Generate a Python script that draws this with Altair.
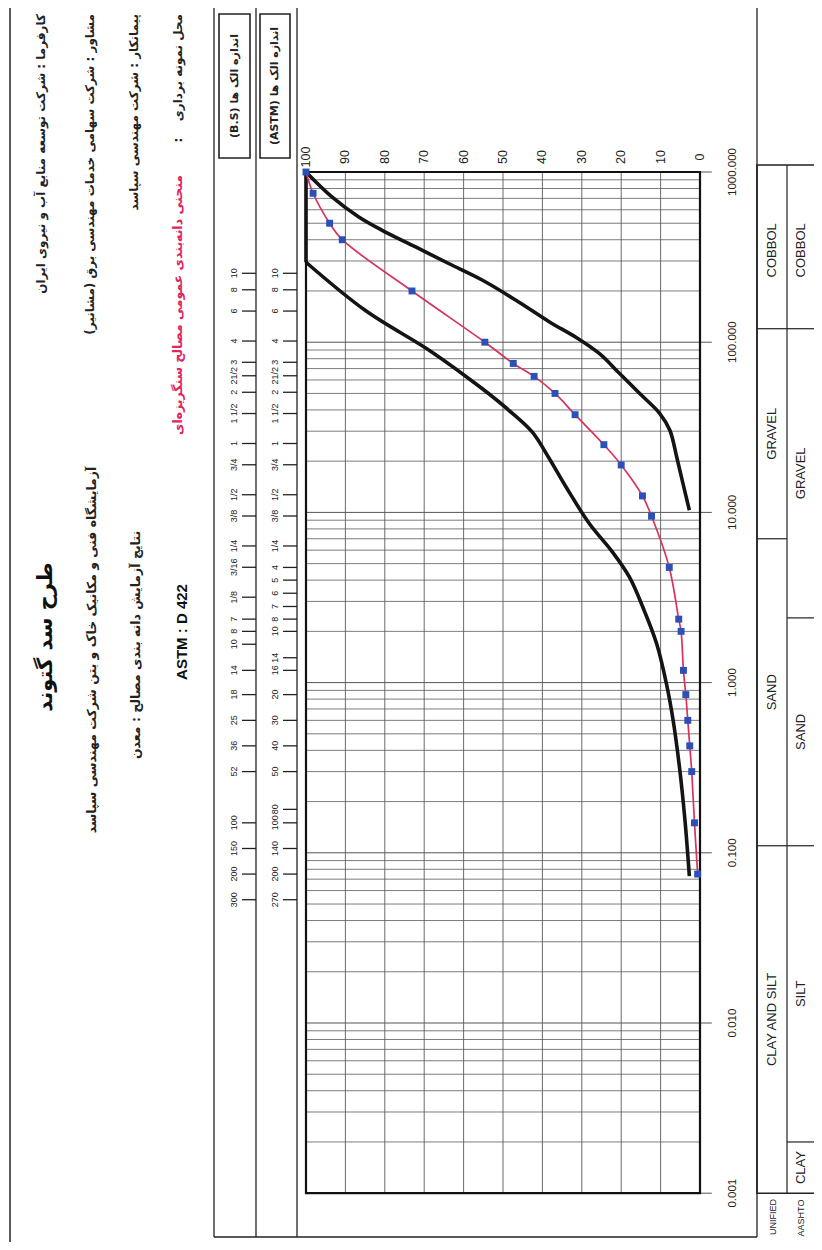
import math
import altair as alt
import pandas as pd

# ---------------- data ----------------
sample_size = [1000, 750, 500, 400, 200, 100, 75, 63, 50, 37.5, 25, 19, 12.5, 9.5,
               4.75, 2.36, 2.0, 1.18, 0.85, 0.6, 0.425, 0.3, 0.15, 0.075]
sample_pass = [100, 98.2, 94.0, 90.8, 73.1, 54.6, 47.4, 42.1, 36.8, 31.7, 24.4, 20.0,
               14.6, 12.3, 7.8, 5.4, 4.8, 4.2, 3.6, 3.1, 2.6, 2.1, 1.4, 0.6]

fine_edge_size = [1000, 295]
fine_edge_pass = [100, 100]
fine_size = [295, 154, 87.7, 53.6, 39.8, 29.7, 20.8, 14.1, 8.6, 5.84, 4.16,
             2.77, 1.69, 0.98, 0.597, 0.303, 0.154, 0.073]
fine_pass = [100, 85.0, 68.1, 55.4, 48.5, 42.6, 38.3, 34.0, 28.1, 22.2, 17.9,
             14.5, 11.0, 8.5, 6.8, 5.1, 3.8, 2.7]

coarse_size = [1000, 716, 546, 456, 364, 290, 232, 177, 132, 107, 85.6, 65.4, 49.9,
               38.1, 30.4, 21.1, 14.7, 10.3]
coarse_pass = [100, 93.5, 86.7, 80.8, 72.3, 63.8, 55.3, 46.8, 38.3, 31.5, 25.5, 20.4,
               15.3, 10.2, 7.65, 5.9, 4.3, 2.7]

pct_ticks = [100, 90, 80, 70, 60, 50, 40, 30, 20, 10, 0]
decade_sizes = [1000, 100, 10, 1, 0.1, 0.01, 0.001]
decade_labels = ["1000.000", "100.000", "10.000", "1.000", "0.100", "0.010", "0.001"]
minor_mult = [2, 3, 4, 5, 6, 7, 8, 9]

bs_labels = ["10", "8", "6", "4", "3", "21/2", "2", "1 1/2", "1", "3/4", "1/2", "3/8",
             "1/4", "3/16", "1/8", "7", "8", "10", "14", "18", "25", "36", "52", "100",
             "150", "200", "300"]
bs_sizes = [254, 203.2, 152.4, 101.6, 76.2, 63.5, 50.8, 38.1, 25.4, 19.05, 12.7, 9.525,
            6.35, 4.76, 3.175, 2.36, 2.0, 1.68, 1.18, 0.85, 0.6, 0.425, 0.3, 0.15,
            0.106, 0.075, 0.053]
astm_labels = ["10", "8", "6", "4", "3", "21/2", "2", "1 1/2", "1", "3/4", "1/2", "3/8",
               "1/4", "4", "5", "6", "7", "8", "10", "14", "16", "20", "30", "40", "50",
               "80", "100", "140", "200", "270"]
astm_sizes = [254, 203.2, 152.4, 101.6, 76.2, 63.5, 50.8, 38.1, 25.4, 19.05, 12.7, 9.525,
              6.35, 4.75, 4.0, 3.35, 2.8, 2.36, 2.0, 1.4, 1.18, 0.85, 0.6, 0.425, 0.3,
              0.18, 0.15, 0.106, 0.075, 0.053]

unified_names = ["COBBOL", "GRAVEL", "SAND", "CLAY AND SILT"]
unified_bounds = [1000, 120, 7, 0.11, 0.001]
aashto_names = ["COBBOL", "GRAVEL", "SAND", "SILT", "CLAY"]
aashto_bounds = [1000, 120, 2.4, 0.11, 0.002, 0.001]

RLM = "\u200f"
t_client = "کارفرما : شرکت توسعه منابع آب و نیروی ایران"
t_consult = "مشاور : شرکت سهامی خدمات مهندسی برق (مشانیر)"
t_contractor = "پیمانکار : شرکت مهندسی سپاسد"
t_place = "محل نمونه برداری"
t_red = "منحنی دانه‌بندی عمومی مصالح سنگریزه‌ای"
t_title = "طرح سد گتوند"
t_lab = "آزمایشگاه فنی و مکانیک خاک و بتن شرکت مهندسی سپاسد"
t_result = "نتایج آزمایش دانه بندی مصالح : معدن"
t_std = "ASTM : D 422"
t_bs = "(B.S) اندازه الک ها"
t_astm = "(ASTM) اندازه الک ها"

# ---------------- geometry ----------------
W, H, ORG = 806, 1234, 8
X100, X0 = 306.0, 700.0
Y_TOP, DEC = 172.0, 170.2
PPP = (X0 - X100) / 100.0
pct_left = (X0 - ORG) / PPP
pct_right = (X0 - ORG - W) / PPP
size_top = 10 ** (3 + (Y_TOP - ORG) / DEC)
size_bot = 10 ** (3 - (ORG + H - Y_TOP) / DEC)


def page_y(size):
    return Y_TOP + (3 - math.log10(size)) * DEC


XS = alt.Scale(domain=[pct_right, pct_left], reverse=True, nice=False, zero=False)
YS = alt.Scale(type="log", domain=[size_bot, size_top], nice=False)
PX = alt.Scale(domain=[ORG, ORG + W], nice=False, zero=False)
PY = alt.Scale(domain=[ORG, ORG + H], reverse=True, nice=False, zero=False)


def ex(f):
    return alt.X(f"{f}:Q", scale=XS, axis=None)


def ey(f):
    return alt.Y(f"{f}:Q", scale=YS, axis=None)


def px(f):
    return alt.X(f"{f}:Q", scale=PX, axis=None)


def py(f):
    return alt.Y(f"{f}:Q", scale=PY, axis=None)


FA = "'Liberation Sans Narrow', 'Liberation Sans', Arial, sans-serif"
FP = "'DejaVu Sans', 'Noto Sans', sans-serif"
layers = []

# grid
minor = [m * 10 ** d for d in range(-3, 3) for m in minor_mult]
g_minor = pd.DataFrame({"s": minor, "a": 100, "b": 0})
layers.append(alt.Chart(g_minor).mark_rule(color="#666666", strokeWidth=0.85).encode(
    x=ex("a"), x2="b", y=ey("s")))
g_dec = pd.DataFrame({"s": decade_sizes, "a": 100, "b": -3})
layers.append(alt.Chart(g_dec).mark_rule(color="#555555", strokeWidth=1).encode(
    x=ex("a"), x2="b", y=ey("s")))
g_v = pd.DataFrame({"p": pct_ticks, "s1": 1000, "s2": 0.001})
layers.append(alt.Chart(g_v).mark_rule(color="#5a5a5a", strokeWidth=0.9).encode(
    x=ex("p"), y=ey("s1"), y2="s2"))
border = pd.DataFrame({"a": [100], "b": [0], "s1": [1000], "s2": [0.001]})
layers.append(alt.Chart(border).mark_rect(fillOpacity=0, stroke="#111111", strokeWidth=2.2).encode(
    x=ex("a"), x2="b", y=ey("s1"), y2="s2"))

# envelopes
env = pd.DataFrame({
    "s": fine_size + coarse_size,
    "p": fine_pass + coarse_pass,
    "curve": ["fine"] * len(fine_size) + ["coarse"] * len(coarse_size),
    "i": list(range(len(fine_size))) + list(range(len(coarse_size))),
})
layers.append(alt.Chart(env).mark_line(color="#141414", strokeWidth=3.6, interpolate="catmull-rom").encode(
    x=ex("p"), y=ey("s"), detail="curve:N", order="i:Q"))
edge = pd.DataFrame({"s": fine_edge_size, "p": fine_edge_pass})
layers.append(alt.Chart(edge).mark_line(color="#141414", strokeWidth=3.6).encode(
    x=ex("p"), y=ey("s")))

# sample curve
samp = pd.DataFrame({"s": sample_size, "p": sample_pass, "i": list(range(len(sample_size)))})
layers.append(alt.Chart(samp).mark_line(color="#d8325e", strokeWidth=1.7, interpolate="catmull-rom").encode(
    x=ex("p"), y=ey("s"), order="i:Q"))
layers.append(alt.Chart(samp).mark_square(size=48, color="#2d4fb8", opacity=1).encode(
    x=ex("p"), y=ey("s")))

# axis labels
pl = pd.DataFrame({"p": pct_ticks, "y": 157, "label": [str(v) for v in pct_ticks]})
layers.append(alt.Chart(pl).mark_text(angle=270, align="center", baseline="middle", font=FA,
                                      fontSize=12.5, color="#222").encode(
    x=ex("p"), y=py("y"), text="label:N"))
sl = pd.DataFrame({"s": decade_sizes, "x": 733, "label": decade_labels})
layers.append(alt.Chart(sl).mark_text(angle=270, align="center", baseline="middle", font=FA,
                                      fontSize=11.5, color="#222").encode(
    x=px("x"), y=ey("s"), text="label:N"))

# sieve columns
sv = pd.DataFrame({
    "s": bs_sizes + astm_sizes,
    "label": bs_labels + astm_labels,
    "tx": [234] * len(bs_sizes) + [275] * len(astm_sizes),
    "a": [242] * len(bs_sizes) + [283] * len(astm_sizes),
    "b": [256] * len(bs_sizes) + [297] * len(astm_sizes),
})
layers.append(alt.Chart(sv).mark_rule(color="#222", strokeWidth=1.3).encode(
    x=px("a"), x2="b", y=ey("s")))
layers.append(alt.Chart(sv).mark_text(angle=270, align="center", baseline="middle", font=FA,
                                      fontSize=9, color="#222").encode(
    x=px("tx"), y=ey("s"), text="label:N"))

# frame lines (page coordinates)
frame = pd.DataFrame([
    (10, 8, 10, 1242, 1.5),
    (214, 8, 214, 1237, 1.3),
    (256, 8, 256, 1237, 1.3),
    (297, 8, 297, 1237, 1.3),
    (214, 1237, 757, 1237, 1.6),
    (757, 8, 757, 1237, 1.3),
    (787, 165, 787, page_y(0.001), 1.2),
], columns=["x", "y", "x2", "y2", "w"])
layers.append(alt.Chart(frame).mark_rule(color="#222").encode(
    x=px("x"), x2="x2", y=py("y"), y2="y2", strokeWidth=alt.StrokeWidth("w:Q", scale=None)))

boxes = pd.DataFrame([
    (219, 14, 250, 158),
    (260, 14, 290, 158),
    (757, 165, 815, page_y(0.001)),
], columns=["x", "y", "x2", "y2"])
layers.append(alt.Chart(boxes).mark_rect(fillOpacity=0, stroke="#222", strokeWidth=1.6).encode(
    x=px("x"), x2="x2", y=py("y"), y2="y2"))

# classification strip
div_rows, lab_rows = [], []
for names, bounds, xa, xb in [(unified_names, unified_bounds, 757, 787),
                              (aashto_names, aashto_bounds, 787, 815)]:
    for b in bounds[1:-1]:
        div_rows.append((xa, xb, b))
    for k, n in enumerate(names):
        c = 10 ** ((math.log10(bounds[k]) + math.log10(bounds[k + 1])) / 2)
        lab_rows.append(((xa + xb) / 2, c, n))
divs = pd.DataFrame(div_rows, columns=["a", "b", "s"])
layers.append(alt.Chart(divs).mark_rule(color="#222", strokeWidth=1.2).encode(
    x=px("a"), x2="b", y=ey("s")))
labs = pd.DataFrame(lab_rows, columns=["x", "s", "label"])
layers.append(alt.Chart(labs).mark_text(angle=270, align="center", baseline="middle", font=FA,
                                        fontSize=13, color="#222").encode(
    x=px("x"), y=ey("s"), text="label:N"))
sys_lab = pd.DataFrame({"x": [773, 801], "y": [1217, 1218], "label": ["UNIFIED", "AASHTO"]})
layers.append(alt.Chart(sys_lab).mark_text(angle=270, align="center", baseline="middle", font=FA,
                                           fontSize=9, color="#222").encode(
    x=px("x"), y=py("y"), text="label:N"))

# header (page coordinates)
top_lines = pd.DataFrame({
    "x": [41, 90, 134, 178],
    "y": [14, 14, 14, 14],
    "label": [RLM + t + RLM for t in [t_client, t_consult, t_contractor, t_place]],
})
layers.append(alt.Chart(top_lines).mark_text(angle=270, align="right", baseline="middle", font=FP,
                                             fontSize=12, fontWeight="bold", color="#222").encode(
    x=px("x"), y=py("y"), text="label:N"))
colon = pd.DataFrame({"x": [178], "y": [140], "label": [":"]})
layers.append(alt.Chart(colon).mark_text(angle=270, align="center", baseline="middle", font=FP,
                                         fontSize=12, fontWeight="bold", color="#222").encode(
    x=px("x"), y=py("y"), text="label:N"))
red = pd.DataFrame({"x": [178], "y": [175], "label": [RLM + t_red + RLM]})
layers.append(alt.Chart(red).mark_text(angle=270, align="right", baseline="middle", font=FP,
                                       fontSize=12.5, fontWeight="bold", color="#e0245e").encode(
    x=px("x"), y=py("y"), text="label:N"))
title = pd.DataFrame({"x": [46], "y": [637], "label": [RLM + t_title + RLM]})
layers.append(alt.Chart(title).mark_text(angle=270, align="center", baseline="middle", font=FP,
                                         fontSize=21, fontWeight="bold", color="#111").encode(
    x=px("x"), y=py("y"), text="label:N"))
mid = pd.DataFrame({"x": [92, 136], "y": [650, 645],
                    "label": [RLM + t_lab + RLM, RLM + t_result + RLM]})
layers.append(alt.Chart(mid).mark_text(angle=270, align="center", baseline="middle", font=FP,
                                       fontSize=12.5, fontWeight="bold", color="#222").encode(
    x=px("x"), y=py("y"), text="label:N"))
std = pd.DataFrame({"x": [182], "y": [632], "label": [t_std]})
layers.append(alt.Chart(std).mark_text(angle=270, align="center", baseline="middle", font=FA,
                                       fontSize=15, fontWeight="bold", color="#111").encode(
    x=px("x"), y=py("y"), text="label:N"))
bx = pd.DataFrame({"x": [234.5, 275], "y": [86, 86], "label": [t_bs, t_astm]})
layers.append(alt.Chart(bx).mark_text(angle=270, align="center", baseline="middle", font=FP,
                                      fontSize=11, fontWeight="bold", color="#222").encode(
    x=px("x"), y=py("y"), text="label:N"))

chart = alt.layer(*layers).resolve_scale(x="independent", y="independent").properties(
    width=W, height=H, padding=0, autosize=alt.AutoSizeParams(type="none"),
    background="white",
).configure_view(strokeWidth=0)

chart.save("out.html", embed_options={"renderer": "svg", "actions": False})
